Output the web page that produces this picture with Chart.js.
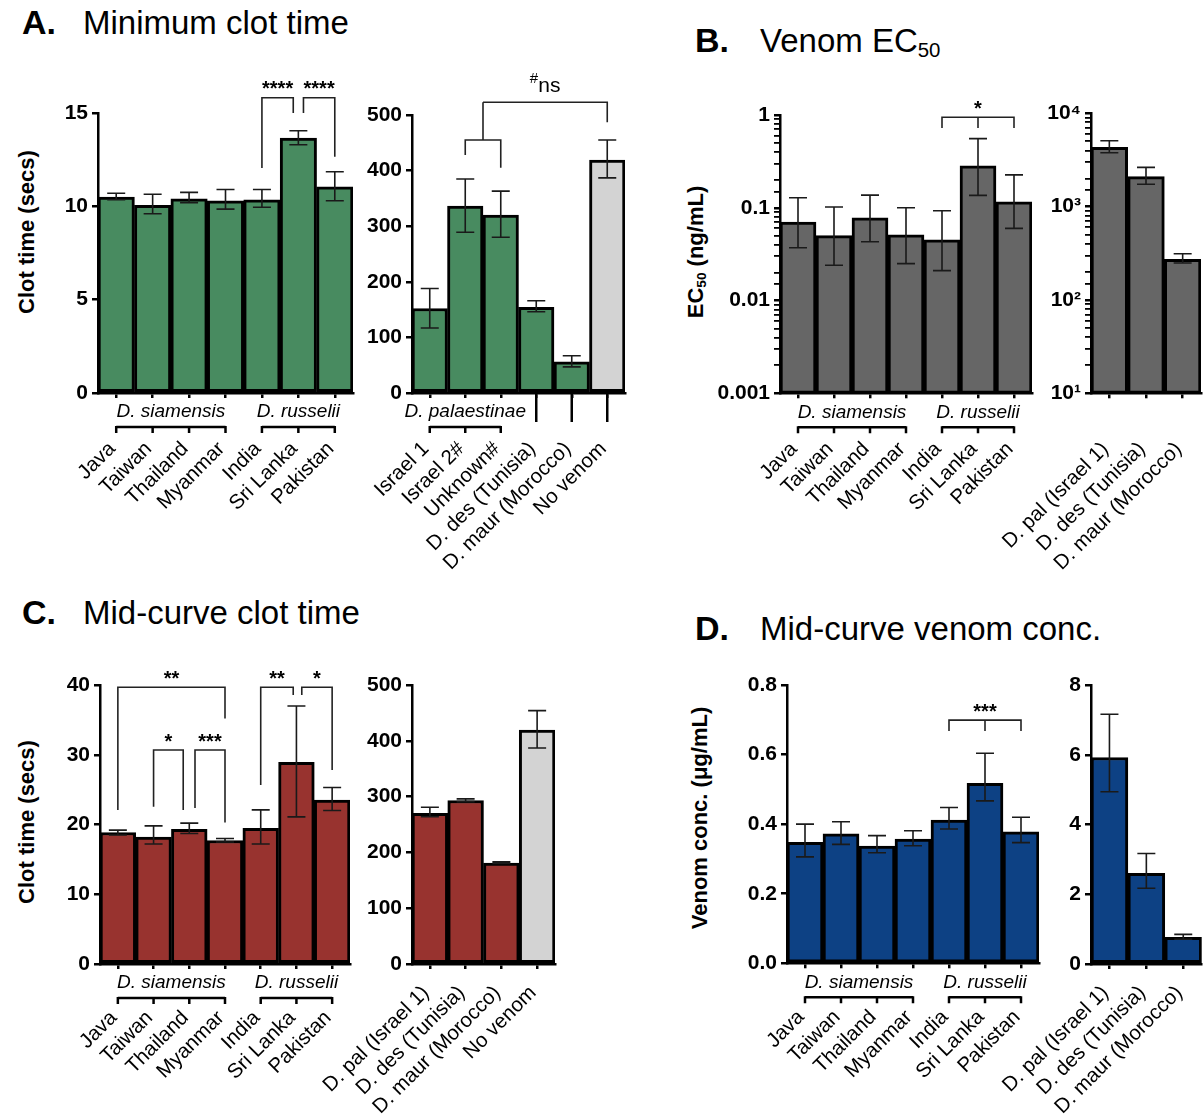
<!DOCTYPE html>
<html>
<head>
<meta charset="utf-8">
<script src="https://cdn.jsdelivr.net/npm/chart.js@4.4.1/dist/chart.umd.min.js"></script>
<style>
  body { margin: 0; background: #fff; width: 1204px; height: 1116px; position: relative; overflow: hidden;
         font-family: "Liberation Sans", Arial, sans-serif; color: #000; }
  .box { position: absolute; }
  .ttl { position: absolute; font-size: 33px; white-space: nowrap; line-height: 1; }
  .ttl.b { font-weight: bold; font-size: 34px; }
  .ytl { position: absolute; font-weight: bold; font-size: 22px; white-space: nowrap; line-height: 1;
         transform: translate(-50%, -50%) rotate(-90deg); }
  sub { font-size: 0.62em; vertical-align: -0.25em; }
</style>
</head>
<body>
<div class="ttl b" style="left:22px;top:5px">A.</div>
<div class="ttl" style="left:83px;top:6px">Minimum clot time</div>
<div class="ttl b" style="left:695px;top:23px">B.</div>
<div class="ttl" style="left:760px;top:24px">Venom EC<sub>50</sub></div>
<div class="ttl b" style="left:22px;top:595px">C.</div>
<div class="ttl" style="left:83px;top:596px">Mid-curve clot time</div>
<div class="ttl b" style="left:695px;top:611px">D.</div>
<div class="ttl" style="left:760px;top:612px">Mid-curve venom conc.</div>

<div class="ytl" style="left:27px;top:232px">Clot time (secs)</div>
<div class="ytl" style="left:697px;top:252px">EC<sub>50</sub> (ng/mL)</div>
<div class="ytl" style="left:27px;top:822px">Clot time (secs)</div>
<div class="ytl" style="left:700px;top:818px">Venom conc. (μg/mL)</div>

<script>
// categories
const siamRuss = ["Java", "Taiwan", "Thailand", "Myanmar", "India", "Sri Lanka", "Pakistan"];
const paleA = ["Israel 1", "Israel 2#", "Unknown#", "D. des (Tunisia)", "D. maur (Morocco)", "No venom"];
const otherB = ["D. pal (Israel 1)", "D. des (Tunisia)", "D. maur (Morocco)"];
const otherC = ["D. pal (Israel 1)", "D. des (Tunisia)", "D. maur (Morocco)", "No venom"];

// A. minimum clot time (secs)
const minClot = [10.5, 10.05, 10.4, 10.3, 10.35, 13.65, 11.05];
const minClotLo = [10.35, 9.6, 10.2, 9.85, 9.95, 13.3, 10.3];
const minClotHi = [10.7, 10.65, 10.75, 10.9, 10.9, 14.05, 11.85];
const minClotPale = [152, 336, 320, 154, 56, 419];
const minClotPaleLo = [117, 289, 280, 146, 47, 387];
const minClotPaleHi = [188, 385, 363, 166, 67, 455];

// B. EC50 (ng/mL)
const ec50 = [0.07, 0.05, 0.078, 0.051, 0.045, 0.284, 0.116];
const ec50Lo = [0.037, 0.024, 0.043, 0.025, 0.021, 0.136, 0.06];
const ec50Hi = [0.128, 0.102, 0.137, 0.1, 0.093, 0.556, 0.226];
const ec50Other = [4325, 2094, 272];
const ec50OtherLo = [3785, 1734, 249];
const ec50OtherHi = [5080, 2636, 313];

// C. mid-curve clot time (secs)
const midClot = [18.85, 18.2, 19.3, 17.7, 19.45, 28.9, 23.5];
const midClotLo = [18.5, 17.2, 18.7, 17.5, 17.2, 21.1, 22.0];
const midClotHi = [19.2, 19.8, 20.2, 18.0, 22.1, 37.0, 25.3];
const midClotOther = [270, 293, 181, 419];
const midClotOtherLo = [264, 291, 180, 387];
const midClotOtherHi = [281, 296, 183, 454];

// D. mid-curve venom conc. (ug/mL)
const midConc = [0.348, 0.372, 0.337, 0.357, 0.412, 0.517, 0.378];
const midConcLo = [0.306, 0.342, 0.318, 0.338, 0.386, 0.467, 0.347];
const midConcHi = [0.40, 0.407, 0.367, 0.381, 0.448, 0.604, 0.42];
const midConcOther = [5.92, 2.6, 0.765];
const midConcOtherLo = [4.94, 2.17, 0.71];
const midConcOtherHi = [7.16, 3.17, 0.85];

// tick labels
const decadeSup = { 1: "10\u00b9", 2: "10\u00b2", 3: "10\u00b3", 4: "10\u2074" };
const decadeDec = { "-3": "0.001", "-2": "0.01", "-1": "0.1", "0": "1" };

const GREEN = "#488b60", GREY = "#666666", RED = "#98332f", BLUE = "#0d4184", LIGHT = "#d3d3d3";
const FONT = "'Liberation Sans', Arial, sans-serif";

Chart.defaults.font.family = FONT;
Chart.defaults.color = "#000";

const errBars = {
  id: "errBars",
  afterDatasetsDraw(chart, args, opts) {
    const ctx = chart.ctx, y = chart.scales.y;
    ctx.save();
    ctx.strokeStyle = "#1a1a1a";
    ctx.lineWidth = 1.6;
    chart.getDatasetMeta(0).data.forEach((bar, i) => {
      const t = y.getPixelForValue(opts.hi[i]);
      const b = y.getPixelForValue(opts.lo[i]);
      ctx.beginPath();
      ctx.moveTo(bar.x, t); ctx.lineTo(bar.x, b);
      ctx.moveTo(bar.x - 9, t); ctx.lineTo(bar.x + 9, t);
      ctx.moveTo(bar.x - 9, b); ctx.lineTo(bar.x + 9, b);
      ctx.stroke();
    });
    ctx.restore();
  },
};

function catPx(chart, v) {
  const x = chart.scales.x;
  const p0 = x.getPixelForValue(0), p1 = x.getPixelForValue(1);
  return p0 + v * (p1 - p0);
}

const sigMarks = {
  id: "sigMarks",
  afterDraw(chart, args, opts) {
    const ctx = chart.ctx, y = chart.scales.y;
    ctx.save();
    ctx.strokeStyle = "#222";
    ctx.lineWidth = 1.6;
    ctx.fillStyle = "#000";
    (opts.items || []).forEach((s) => {
      const xa = catPx(chart, s.x1), xb = catPx(chart, s.x2);
      const yy = y.getPixelForValue(s.y);
      ctx.beginPath();
      ctx.moveTo(xa, y.getPixelForValue(s.y1));
      ctx.lineTo(xa, yy);
      ctx.lineTo(xb, yy);
      ctx.lineTo(xb, y.getPixelForValue(s.y2));
      if (s.xm !== undefined) {
        const xm = catPx(chart, s.xm);
        ctx.moveTo(xm, yy);
        ctx.lineTo(xm, y.getPixelForValue(s.ym));
      }
      ctx.stroke();
      if (s.text) {
        const tx = (xa + xb) / 2;
        const ty = yy - (s.dy || 2.5);
        ctx.textBaseline = "alphabetic";
        if (s.sup) {
          ctx.font = "21px " + FONT;
          const w = ctx.measureText(s.text).width;
          ctx.font = "15px " + FONT;
          const ws = ctx.measureText(s.sup).width;
          const x0 = tx - (w + ws) / 2;
          ctx.textAlign = "left";
          ctx.fillText(s.sup, x0, ty - 9);
          ctx.font = "21px " + FONT;
          ctx.fillText(s.text, x0 + ws, ty);
        } else {
          ctx.font = "bold 20px " + FONT;
          ctx.textAlign = "center";
          ctx.fillText(s.text, tx, ty);
        }
      }
    });
    ctx.restore();
  },
};

const groups = {
  id: "groups",
  afterDraw(chart, args, opts) {
    const ctx = chart.ctx, bottom = chart.chartArea.bottom;
    ctx.save();
    ctx.strokeStyle = "#000";
    ctx.lineWidth = 2.5;
    ctx.fillStyle = "#000";
    (opts.longTicks || []).forEach((i) => {
      const x = catPx(chart, i);
      ctx.beginPath();
      ctx.moveTo(x, bottom);
      ctx.lineTo(x, bottom + 29);
      ctx.stroke();
    });
    (opts.items || []).forEach((g) => {
      const xa = catPx(chart, g.from), xb = catPx(chart, g.to);
      ctx.font = "italic 19px " + FONT;
      ctx.textAlign = "center";
      ctx.textBaseline = "middle";
      ctx.fillText(g.text, (xa + xb) / 2, bottom + 19);
      const ly = bottom + 34;
      ctx.beginPath();
      ctx.moveTo(xa, ly);
      ctx.lineTo(xb, ly);
      for (let i = g.from; i <= g.to; i++) {
        const x = catPx(chart, i);
        ctx.moveTo(x, ly - 1);
        ctx.lineTo(x, ly + 6);
      }
      ctx.stroke();
    });
    ctx.restore();
  },
};

function yLinear(max, step, fmt) {
  return {
    type: "linear",
    min: 0,
    max: max,
    ticks: { stepSize: step, callback: fmt, font: { size: 21, weight: "bold" }, color: "#000", padding: 4 },
    grid: { drawOnChartArea: false, tickLength: 6, color: "#000", lineWidth: 2.5 },
    border: { color: "#000", width: 2.5 },
  };
}

function yLog(min, max, names) {
  return {
    type: "logarithmic",
    min: min,
    max: max,
    ticks: {
      autoSkip: false,
      font: { size: 21, weight: "bold" },
      color: "#000",
      padding: 4,
      callback: (v) => {
        const e = Math.log10(v);
        return Math.abs(e - Math.round(e)) < 1e-6 ? names[Math.round(e)] : "";
      },
    },
    grid: {
      drawOnChartArea: false,
      tickLength: 6,
      color: "#000",
      lineWidth: (c) => {
        const e = Math.log10(c.tick ? c.tick.value : 1);
        return Math.abs(e - Math.round(e)) < 1e-6 ? 2.5 : 1.8;
      },
    },
    border: { color: "#000", width: 2.5 },
  };
}

function barChart(id, f, labels, values, lo, hi, colors, yOpts, sig, grp) {
  const wrap = document.createElement("div");
  wrap.className = "box";
  wrap.style.left = f.cl + "px";
  wrap.style.top = f.ct + "px";
  wrap.style.width = (f.x1 - f.cl + f.pr) + "px";
  wrap.style.height = (f.bottom - f.ct) + "px";
  const canvas = document.createElement("canvas");
  canvas.id = id;
  wrap.appendChild(canvas);
  document.body.appendChild(wrap);

  yOpts.afterFit = (s) => {
    s.width = f.x0 - f.cl;
    s.paddingTop = 0;
    s.paddingBottom = 0;
  };

  return new Chart(canvas.getContext("2d"), {
    type: "bar",
    data: {
      labels: labels,
      datasets: [
        {
          data: values,
          backgroundColor: colors,
          borderColor: "#000",
          borderWidth: 3,
          borderSkipped: false,
          barPercentage: 1,
          categoryPercentage: 1,
        },
      ],
    },
    options: {
      responsive: true,
      maintainAspectRatio: false,
      animation: false,
      layout: { padding: { top: f.y0 - f.ct, right: f.pr, left: 0, bottom: 0 } },
      plugins: {
        legend: { display: false },
        tooltip: { enabled: false },
        errBars: { lo: lo, hi: hi },
        sigMarks: { items: sig },
        groups: grp,
      },
      scales: {
        x: {
          offset: true,
          grid: { drawOnChartArea: false, offset: false, tickLength: 5, color: "#000", lineWidth: 2.5 },
          border: { color: "#000", width: 2.5 },
          ticks: {
            autoSkip: false,
            maxRotation: 45,
            minRotation: 45,
            padding: f.tp,
            labelOffset: -4,
            font: { size: 20.5 },
            color: "#000",
          },
          afterFit: (s) => {
            s.height = f.bottom - f.y1;
            s.paddingLeft = 0;
            s.paddingRight = 0;
          },
        },
        y: yOpts,
      },
    },
    plugins: [errBars, sigMarks, groups],
  });
}

const speciesGroups = {
  items: [
    { from: 0, to: 3, text: "D. siamensis" },
    { from: 4, to: 6, text: "D. russelii" },
  ],
};
const seven = (c) => siamRuss.map(() => c);

// A left
barChart("minClot", { cl: 0, ct: 70, x0: 98, x1: 353, y0: 113, y1: 393, bottom: 545, pr: 6, tp: 39 },
  siamRuss, minClot, minClotLo, minClotHi, seven(GREEN),
  yLinear(15, 5, (v) => v),
  [
    { x1: 4, x2: 4.86, y: 15.82, y1: 12.05, y2: 15.0, text: "****" },
    { x1: 5.14, x2: 6, y: 15.82, y1: 15.0, y2: 12.66, text: "****" },
  ],
  speciesGroups);

// A right
barChart("minClotPale", { cl: 355, ct: 70, x0: 412, x1: 625, y0: 115, y1: 393, bottom: 585, pr: 8, tp: 39 },
  paleA, minClotPale, minClotPaleLo, minClotPaleHi, [GREEN, GREEN, GREEN, GREEN, GREEN, LIGHT],
  yLinear(500, 100, (v) => v),
  [
    { x1: 1, x2: 2, y: 455, y1: 428, y2: 405, xm: 1.5, ym: 523 },
    { x1: 1.5, x2: 5, y: 523, y1: 523, y2: 487, text: "ns", sup: "#", dy: 10 },
  ],
  { items: [{ from: 0, to: 2, text: "D. palaestinae" }], longTicks: [3, 4, 5] });

// B left
barChart("ec50", { cl: 700, ct: 80, x0: 780, x1: 1032, y0: 115, y1: 393.3, bottom: 545, pr: 6, tp: 39 },
  siamRuss, ec50, ec50Lo, ec50Hi, seven(GREY),
  yLog(0.001, 1, decadeDec),
  [{ x1: 4, x2: 6, y: 0.944, y1: 0.724, y2: 0.724, xm: 5, ym: 0.724, text: "*" }],
  speciesGroups);

// B right
barChart("ec50Other", { cl: 960, ct: 80, x0: 1091, x1: 1201, y0: 113.3, y1: 393.3, bottom: 590, pr: 3, tp: 39 },
  otherB, ec50Other, ec50OtherLo, ec50OtherHi, [GREY, GREY, GREY],
  yLog(10, 10000, decadeSup), [], {});

// C left
barChart("midClot", { cl: 0, ct: 650, x0: 100, x1: 350, y0: 685, y1: 964, bottom: 1112, pr: 6, tp: 37 },
  siamRuss, midClot, midClotLo, midClotHi, seven(RED),
  yLinear(40, 10, (v) => v),
  [
    { x1: 0, x2: 3, y: 39.67, y1: 22.08, y2: 35.2, text: "**" },
    { x1: 1, x2: 1.83, y: 30.68, y1: 22.55, y2: 22.08, text: "*" },
    { x1: 2.16, x2: 3, y: 30.68, y1: 22.37, y2: 20.3, text: "***" },
    { x1: 4, x2: 4.91, y: 39.67, y1: 25.66, y2: 38.57, text: "**" },
    { x1: 5.15, x2: 6, y: 39.67, y1: 38.57, y2: 27.8, text: "*" },
  ],
  speciesGroups);

// C right
barChart("midClotOther", { cl: 290, ct: 650, x0: 412, x1: 555, y0: 685, y1: 964, bottom: 1116, pr: 8, tp: 12 },
  otherC, midClotOther, midClotOtherLo, midClotOtherHi, [RED, RED, RED, LIGHT],
  yLinear(500, 100, (v) => v), [], {});

// D left
barChart("midConc", { cl: 700, ct: 650, x0: 787, x1: 1039, y0: 685, y1: 963.3, bottom: 1112, pr: 6, tp: 37 },
  siamRuss, midConc, midConcLo, midConcHi, seven(BLUE),
  yLinear(0.8, 0.2, (v) => v.toFixed(1)),
  [{ x1: 4, x2: 6, y: 0.699, y1: 0.668, y2: 0.668, xm: 5, ym: 0.668, text: "***" }],
  speciesGroups);

// D right
barChart("midConcOther", { cl: 960, ct: 650, x0: 1091, x1: 1201.7, y0: 685, y1: 964, bottom: 1116, pr: 2.3, tp: 12 },
  otherB, midConcOther, midConcOtherLo, midConcOtherHi, [BLUE, BLUE, BLUE],
  yLinear(8, 2, (v) => v), [], {});
</script>
</body>
</html>
